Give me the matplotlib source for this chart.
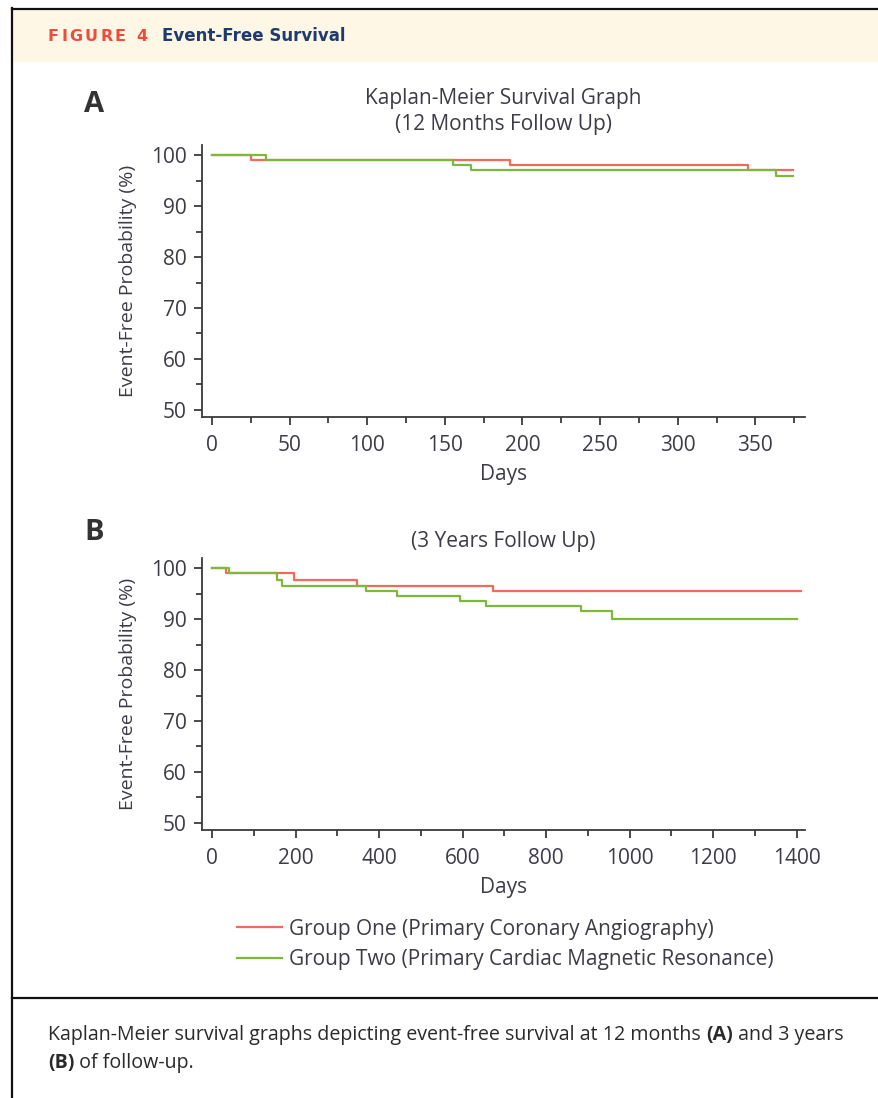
import matplotlib
matplotlib.use("Agg")
import matplotlib.pyplot as plt
from matplotlib.ticker import MultipleLocator
from matplotlib.patches import Rectangle
from matplotlib.lines import Line2D

# ---- survival data (days, event-free %) ----
# Panel A: 12 months follow-up
a_red_days = [0, 25, 192, 345, 374]
a_red_surv = [100, 99, 98, 97, 97]
a_green_days = [0, 35, 155, 167, 363, 374]
a_green_surv = [100, 99, 98, 97, 96, 96]

# Panel B: 3 years follow-up
b_red_days = [0, 33, 196, 348, 672, 1410]
b_red_surv = [100, 99, 97.6, 96.5, 95.5, 95.5]
b_green_days = [0, 40, 155, 167, 368, 444, 595, 655, 883, 959, 1400]
b_green_surv = [100, 99, 97.6, 96.5, 95.5, 94.5, 93.5, 92.5, 91.5, 90, 90]

group_labels = ["Group One (Primary Coronary Angiography)",
                "Group Two (Primary Cardiac Magnetic Resonance)"]
y_ticks = [50, 60, 70, 80, 90, 100]
a_x_ticks = [0, 50, 100, 150, 200, 250, 300, 350]
b_x_ticks = [0, 200, 400, 600, 800, 1000, 1200, 1400]

RED = "#F26A5A"
GREEN = "#7CB83C"
AXC = "#3a3a3a"
TXT = "#3c3c46"
FONT = ["Open Sans", "DejaVu Sans"]
FS = 15

W, H = 879, 1098
fig = plt.figure(figsize=(W / 100, H / 100), dpi=100)
fig.patch.set_facecolor("white")


def fx(px):
    return px / W


def fy(py):
    return 1 - py / H


# frame, header band, caption separator
fig.add_artist(Rectangle((fx(13), fy(62)), fx(W) - fx(13), fy(10) - fy(62),
                         transform=fig.transFigure, facecolor="#FEF7E6",
                         edgecolor="none", zorder=0))
fig.add_artist(Line2D([fx(12), fx(12)], [fy(8), fy(H)], transform=fig.transFigure,
                      color="#111111", lw=1.6))
fig.add_artist(Line2D([fx(12), fx(W)], [fy(9), fy(9)], transform=fig.transFigure,
                      color="#111111", lw=1.6))
fig.add_artist(Line2D([fx(12), fx(W)], [fy(998), fy(998)], transform=fig.transFigure,
                      color="#111111", lw=1.6))

fig.canvas.draw()
renderer = fig.canvas.get_renderer()


def tracked_text(s, x_px, base_px, width_px, **kw):
    """Text laid out glyph by glyph with extra letter spacing to fill width_px."""
    widths = []
    for ch in s:
        t = fig.text(0, 0, ch if ch != " " else "\u00a0", **kw)
        widths.append(t.get_window_extent(renderer=renderer).width)
        t.remove()
    gap = (width_px - sum(widths)) / (len(s) - 1)
    x = x_px
    for ch, w in zip(s, widths):
        if ch != " ":
            fig.text(fx(x), fy(base_px), ch, va="baseline", ha="left", **kw)
        x += w + gap


tracked_text("FIGURE 4", 48, 41, 99, color="#EE4B3A", fontsize=11.5,
             fontweight="heavy", family=["DejaVu Sans"])
fig.text(fx(162), fy(41), "Event-Free Survival", color="#1E3A6E", fontsize=12,
         fontweight="bold", family=["DejaVu Sans"], va="baseline", ha="left")


def style_axes(ax, xminor, xticks):
    for s in ("top", "right"):
        ax.spines[s].set_visible(False)
    for s in ("left", "bottom"):
        ax.spines[s].set_color(AXC)
        ax.spines[s].set_linewidth(1.3)
    ax.set_yticks(y_ticks)
    ax.yaxis.set_minor_locator(MultipleLocator(5))
    ax.set_xticks(xticks)
    ax.xaxis.set_minor_locator(MultipleLocator(xminor))
    ax.tick_params(which="major", direction="out", length=6, width=1.3,
                   color=AXC, labelsize=FS, labelcolor=TXT, pad=5)
    ax.tick_params(which="minor", direction="out", length=4, width=1.3, color=AXC)
    ax.tick_params(axis="x", which="major", pad=7)
    for lab in ax.get_xticklabels() + ax.get_yticklabels():
        lab.set_family(FONT)
    ax.set_ylabel("Event-Free Probability (%)", fontsize=14, color=TXT,
                  family=FONT, labelpad=10)
    ax.set_xlabel("Days", fontsize=FS, color=TXT, family=FONT, labelpad=6)


# Panel A
axA = fig.add_axes([fx(202), fy(417), fx(805) - fx(202), fy(145) - fy(417)])
axA.step(a_red_days, a_red_surv, where="post", color=RED, lw=1.6)
axA.step(a_green_days, a_green_surv, where="post", color=GREEN, lw=1.6)
axA.set_xlim(-6.4, 382)
axA.set_ylim(48.6, 102)
style_axes(axA, 25, a_x_ticks)
axA.set_title("Kaplan-Meier Survival Graph\n(12 Months Follow Up)", fontsize=FS,
              color=TXT, family=FONT, pad=11, linespacing=1.3)

# Panel B
axB = fig.add_axes([fx(202), fy(830), fx(805) - fx(202), fy(558) - fy(830)])
lr, = axB.step(b_red_days, b_red_surv, where="post", color=RED, lw=1.6)
lg, = axB.step(b_green_days, b_green_surv, where="post", color=GREEN, lw=1.6)
axB.set_xlim(-24, 1420)
axB.set_ylim(48.6, 102)
style_axes(axB, 100, b_x_ticks)
axB.set_title("(3 Years Follow Up)", fontsize=FS, color=TXT, family=FONT, pad=8)

fig.text(fx(84), fy(105), "A", fontsize=21, fontweight="bold", color="#333333",
         family=FONT, va="center", ha="left")
fig.text(fx(84), fy(533), "B", fontsize=21, fontweight="bold", color="#333333",
         family=FONT, va="center", ha="left")

leg = fig.legend([lr, lg], group_labels, loc="upper left",
                 bbox_to_anchor=(fx(218), fy(900)), frameon=False,
                 prop={"family": FONT, "size": FS}, handlelength=2.15,
                 handletextpad=0.38, labelspacing=0.45, labelcolor=TXT)

# caption with bold panel references, sized to span the text column
cap_line1 = [("Kaplan-Meier survival graphs depicting event-free survival at 12 months ", False),
             ("(A)", True), (" and 3 years", False)]
cap_line2 = [("(B)", True), (" of follow-up.", False)]


def write_runs(x_px, y_px, runs, size, keep=True):
    x = x_px
    made = []
    for text, bold in runs:
        t = fig.text(fx(x), fy(y_px), text, fontweight="bold" if bold else "normal",
                     fontsize=size, color="#2a2a2a", family=FONT,
                     va="baseline", ha="left")
        x += t.get_window_extent(renderer=renderer).width
        made.append(t)
    if not keep:
        for t in made:
            t.remove()
    return x - x_px


w10 = write_runs(48, 1040, cap_line1, 10, keep=False)
cap_size = 10 * 795 / w10
write_runs(48, 1040, cap_line1, cap_size)
write_runs(48, 1068, cap_line2, cap_size)

fig.savefig("out.png", dpi=100)
